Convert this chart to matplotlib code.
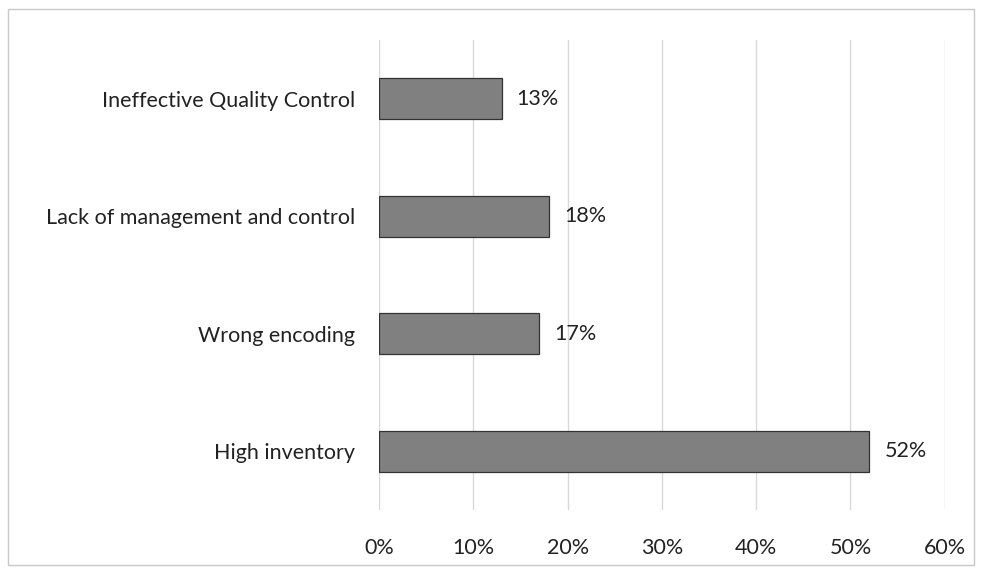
import matplotlib
matplotlib.use("Agg")
import matplotlib.pyplot as plt
from matplotlib.patches import Rectangle
from matplotlib.ticker import FuncFormatter

categories = ["High inventory", "Wrong encoding",
              "Lack of management and control", "Ineffective Quality Control"]
values = [52, 17, 18, 13]
xticks = [0, 10, 20, 30, 40, 50, 60]

plt.rcParams['font.family'] = ['Lato', 'DejaVu Sans']

fig = plt.figure(figsize=(9.82, 5.71), dpi=100)
fig.patch.set_facecolor('white')
ax = fig.add_axes([0.386, 0.107, 0.576, 0.823])

ax.barh(range(len(categories)), values, height=0.35,
        color='#808080', edgecolor='#333333', linewidth=0.9, zorder=3)

for i, v in enumerate(values):
    ax.text(v + 1.6, i, "%d%%" % v, va='center', ha='left',
            fontsize=15.5, color='#222222')

ax.set_xlim(0, 60)
ax.set_ylim(-0.5, len(categories) - 0.5)
ax.set_xticks(xticks)
ax.xaxis.set_major_formatter(FuncFormatter(lambda x, p: "%d%%" % x))
ax.set_yticks(range(len(categories)))
ax.set_yticklabels(categories)
ax.tick_params(axis='both', length=0, labelsize=15.5, labelcolor='#222222')
ax.tick_params(axis='x', pad=20)
ax.tick_params(axis='y', pad=17)

ax.grid(axis='x', color='#d9d9d9', linewidth=1, zorder=0)
for s in ax.spines.values():
    s.set_visible(False)
ax.axvline(0, color='#c8c8c8', linewidth=1.2, zorder=1)

fig.patches.append(Rectangle((0.008, 0.01), 0.984, 0.975, transform=fig.transFigure,
                             fill=False, edgecolor='#c8c8c8', linewidth=1))

fig.savefig("out.png", dpi=100)
